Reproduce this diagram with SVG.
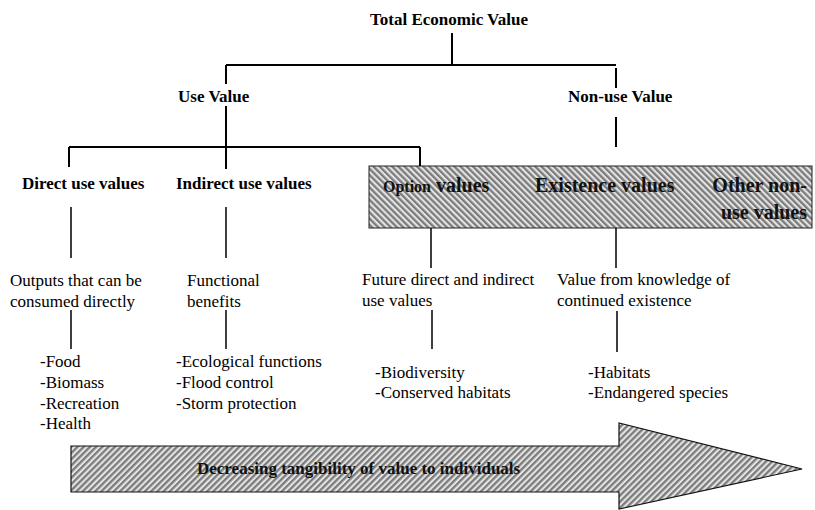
<svg xmlns="http://www.w3.org/2000/svg" width="815" height="510" viewBox="0 0 815 510">
  <defs>
    <pattern id="hatch-back" patternUnits="userSpaceOnUse" width="4.4" height="4.4" patternTransform="rotate(-45)">
      <rect width="4.4" height="4.4" fill="#e4e4e4"/>
      <rect width="2.3" height="4.4" fill="#7c7c7c"/>
    </pattern>
    <pattern id="hatch-fwd" patternUnits="userSpaceOnUse" width="4.4" height="4.4" patternTransform="rotate(45)">
      <rect width="4.4" height="4.4" fill="#e4e4e4"/>
      <rect width="2.3" height="4.4" fill="#7c7c7c"/>
    </pattern>
  </defs>
  <style>
    .head { font-family: "Liberation Serif", "Times New Roman", serif; font-weight: bold; font-size: 17px; fill: #000; }
    .band { font-family: "Liberation Serif", "Times New Roman", serif; font-weight: bold; font-size: 20px; fill: #111; }
    .txt { font-family: "Liberation Serif", "Times New Roman", serif; font-size: 17px; fill: #000; }
    .arrowtxt { font-family: "Liberation Serif", "Times New Roman", serif; font-weight: bold; font-size: 17px; fill: #111; }
    .main { stroke: #000; stroke-width: 2; fill: none; }
    .thin { stroke: #000; stroke-width: 1.5; fill: none; }
  </style>

  <rect width="815" height="510" fill="#fff"/>

  <!-- non-use band behind the option / existence / other headings -->
  <rect id="nonuse-band" x="369" y="166" width="443" height="62" fill="url(#hatch-back)" stroke="#222" stroke-width="1"/>

  <!-- connectors -->
  <g id="connectors">
    <path class="main" d="M452 33 V65 M226 65 H616 M226 65 V84 M616 68 V88 M226 106 V147 M616 117 V147 M69 147 H420 M69 147 V167 M226 147 V169 M420 147 V166"/>
    <path class="thin" d="M71 207 V258 M226 207 V258 M431 228 V268 M616 228 V268 M71 310 V349 M226 310 V349 M432 310 V349 M617 311 V352"/>
  </g>

  <g id="total-economic-value"><text class="head" x="370" y="25" font-size="18">Total Economic Value</text></g>
  <g id="use-value"><text class="head" x="178" y="102">Use Value</text></g>
  <g id="non-use-value"><text class="head" x="568" y="102" font-size="18">Non-use Value</text></g>

  <g id="direct-use"><text class="head" x="22" y="189">Direct use values</text></g>
  <g id="indirect-use"><text class="head" x="176" y="189">Indirect use values</text></g>
  <g id="option-values"><text class="band" x="383" y="192"><tspan font-size="16">Option</tspan> values</text></g>
  <g id="existence-values"><text class="band" x="535" y="192">Existence values</text></g>
  <g id="other-non-use"><text class="band" text-anchor="end" x="807" y="192">Other non-</text><text class="band" text-anchor="end" x="807" y="219">use values</text></g>

  <g id="direct-desc"><text class="txt" x="10" y="286">Outputs that can be</text><text class="txt" x="10" y="307">consumed directly</text></g>
  <g id="indirect-desc"><text class="txt" x="187" y="286">Functional</text><text class="txt" x="187" y="307">benefits</text></g>
  <g id="option-desc"><text class="txt" x="362" y="285">Future direct and indirect</text><text class="txt" x="362" y="306">use values</text></g>
  <g id="existence-desc"><text class="txt" x="557" y="285">Value from knowledge of</text><text class="txt" x="557" y="306">continued existence</text></g>

  <g id="direct-examples">
    <text class="txt" x="40" y="367">-Food</text>
    <text class="txt" x="40" y="388">-Biomass</text>
    <text class="txt" x="40" y="409">-Recreation</text>
    <text class="txt" x="40" y="429">-Health</text>
  </g>
  <g id="indirect-examples">
    <text class="txt" x="176" y="367">-Ecological functions</text>
    <text class="txt" x="176" y="388">-Flood control</text>
    <text class="txt" x="176" y="409">-Storm protection</text>
  </g>
  <g id="option-examples">
    <text class="txt" x="375" y="378">-Biodiversity</text>
    <text class="txt" x="375" y="398">-Conserved habitats</text>
  </g>
  <g id="existence-examples">
    <text class="txt" x="588" y="378">-Habitats</text>
    <text class="txt" x="588" y="398">-Endangered species</text>
  </g>

  <g id="tangibility-arrow">
    <polygon points="71,446 619,446 619,423 802,469 619,509 619,492 71,492" fill="url(#hatch-fwd)" stroke="#111" stroke-width="1.2"/>
    <text class="arrowtxt" x="197" y="474">Decreasing tangibility of value to individuals</text>
  </g>
</svg>
